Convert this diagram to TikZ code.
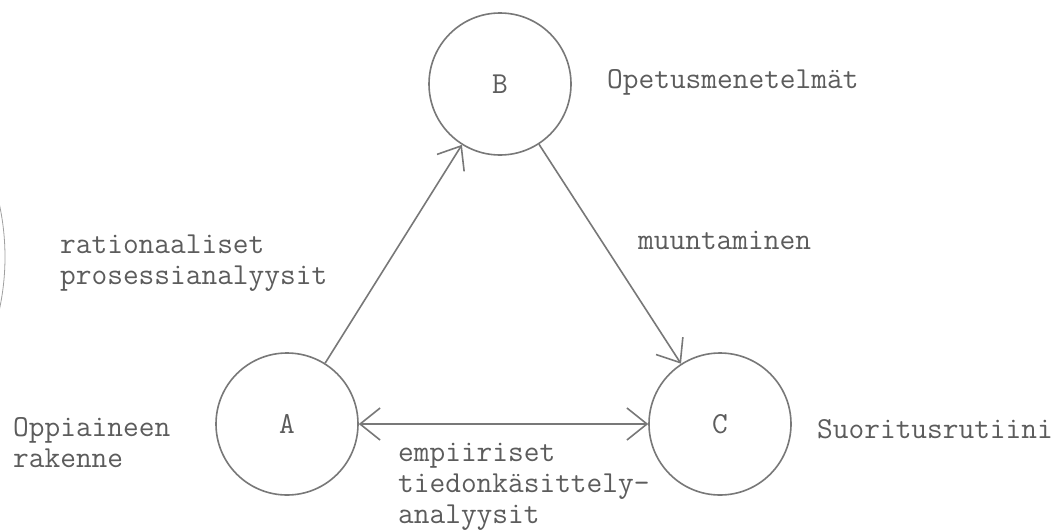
\documentclass[tikz,border=0pt]{standalone}
\usepackage{fontspec}
\usetikzlibrary{arrows.meta}
\definecolor{linegray}{HTML}{787878}
\definecolor{inkgray}{HTML}{5C5C5C}
\definecolor{faintgray}{HTML}{A0A0A0}
% typewriter lettering: Latin Modern Mono, about 16pt per character
\newcommand\typed{\ttfamily\fontsize{30.5}{31}\selectfont}
\begin{document}
\begin{tikzpicture}[x=1pt,y=-1pt,
  station/.style={circle, draw=linegray, line width=1.6pt, minimum size=142pt,
    inner sep=0pt, text=inkgray, font=\typed},
  caption/.style={anchor=base west, inner sep=0pt, text=inkgray, font=\typed, align=left},
  flow/.style={draw=linegray, line width=1.6pt,
    -{Straight Barb[length=20pt,width=32pt,line width=1.6pt]}},
  twoway/.style={draw=linegray, line width=1.6pt,
    {Straight Barb[length=20pt,width=32pt,line width=1.6pt]}-{Straight Barb[length=20pt,width=32pt,line width=1.6pt]}},
]
\useasboundingbox[fill=white] (0,0) rectangle (1059,530);

% stray edge of a neighbouring circle
\draw[faintgray, line width=0.8pt] (-245,257) ++(-13:250pt) arc[start angle=-13, end angle=13, radius=250pt];

% the three circles
\node[station] (A) at (287,424) {A};
\node[station] (B) at (500,84) {B};
\node[station] (C) at (720,424) {C};

% connectors
\draw[flow] (A) -- (B);
\draw[flow] (B) -- (C);
\draw[twoway] (A) -- (C);

% labels (base anchor sits on the last line's baseline)
\node[caption] (lb) at (607,88) {Opetusmenetelmät};
\node[caption] (lab) at (60,284) {rationaaliset\\prosessianalyysit};
\node[caption] (lbc) at (638,249) {muuntaminen};
\node[caption] (la) at (13,467) {Oppiaineen\\rakenne};
\node[caption] (lc) at (817,438) {Suoritusrutiini};
\node[caption] (lac) at (398,523) {empiiriset\\tiedonkäsittely-\\analyysit};
\end{tikzpicture}
\end{document}
